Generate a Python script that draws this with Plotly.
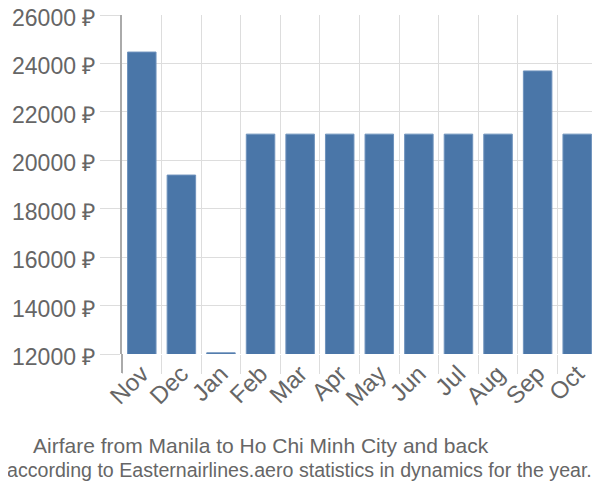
import plotly.graph_objects as go

months = ["Nov", "Dec", "Jan", "Feb", "Mar", "Apr", "May", "Jun", "Jul", "Aug", "Sep", "Oct"]
prices = [24470, 19390, 12050, 21080, 21080, 21080, 21080, 21080, 21080, 21080, 23690, 21080]
y_ticks = [12000, 14000, 16000, 18000, 20000, 22000, 24000, 26000]
y_labels = [f"{v} ₽" for v in y_ticks]

fig = go.Figure(go.Bar(
    x=months, y=prices,
    marker=dict(color="#4a76a8", line=dict(color="#6f93bd", width=1)),
    width=0.72,
))

fig.update_layout(
    width=592, height=492,
    margin=dict(l=114, r=3, t=7, b=146),
    plot_bgcolor="white", paper_bgcolor="white",
    font=dict(family="Liberation Sans, Arial, sans-serif", color="#666666"),
    showlegend=False,
    xaxis=dict(
        type="category", tickson="boundaries", showgrid=True, gridcolor="#dddddd",
        ticks="outside", ticklen=19, tickcolor="#dddddd", tickangle=-45,
        tickfont=dict(size=24, color="#666666"), showline=False, automargin=False,
    ),
    yaxis=dict(
        range=[12000, 26000], tickvals=y_ticks, ticktext=y_labels,
        showgrid=True, gridcolor="#dddddd", ticks="outside", ticklen=20,
        tickcolor="#dddddd", tickfont=dict(size=23, color="#666666"),
        ticklabeloverflow="allow", automargin=False, ticklabelshift=3,
        showline=True, linecolor="#aaaaaa", linewidth=2, zeroline=False,
    ),
    shapes=[dict(type="line", xref="paper", yref="paper", x0=0, x1=0, y0=0, y1=-0.056,
                 line=dict(color="#aaaaaa", width=2))],
    annotations=[
        dict(text="Airfare from Manila to Ho Chi Minh City and back", x=0.2926, y=-0.271,
             xref="paper", yref="paper", xanchor="center", yanchor="middle",
             showarrow=False, font=dict(size=21, color="#666666")),
        dict(text="according to Easternairlines.aero statistics in dynamics for the year.",
             x=0.3747, y=-0.341, xref="paper", yref="paper", xanchor="center", yanchor="middle",
             showarrow=False, font=dict(size=19.6, color="#666666")),
    ],
)

fig.write_html("out.html")
